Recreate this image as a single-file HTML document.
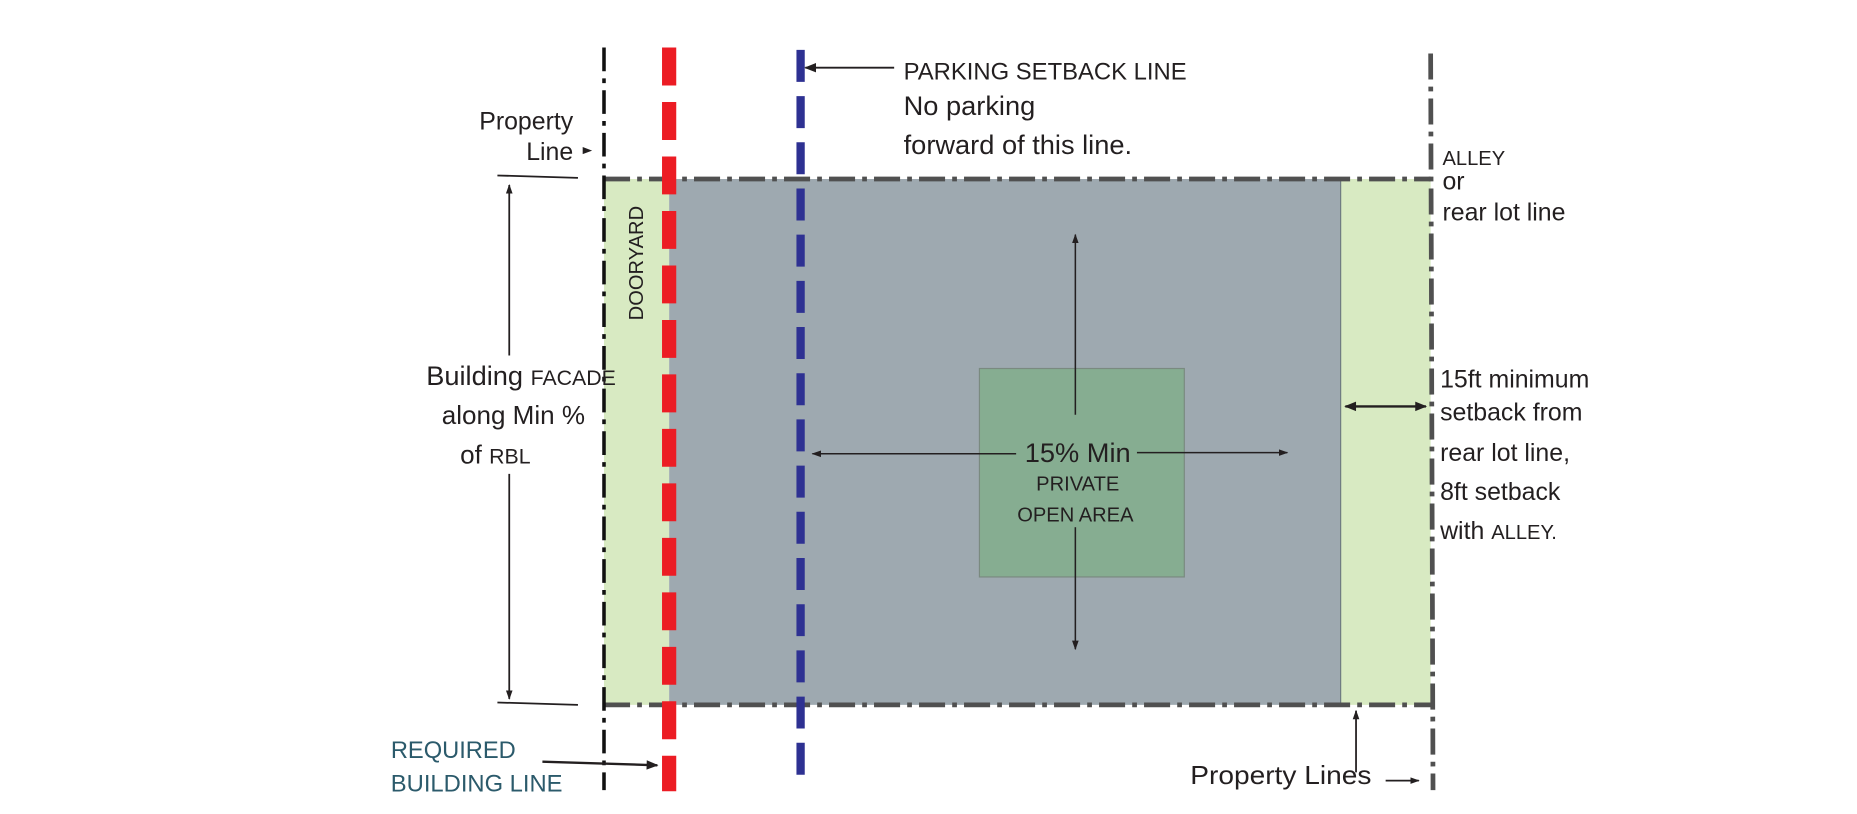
<!DOCTYPE html>
<html><head><meta charset="utf-8"><style>
html,body{margin:0;padding:0;background:#fff;width:1857px;height:814px;overflow:hidden}
svg{display:block}
text{font-family:"Liberation Sans",sans-serif;fill:#231f20}
</style></head><body>
<svg width="1857" height="814" viewBox="0 0 1568 687" xmlns="http://www.w3.org/2000/svg">
<defs>
<marker id="ah" viewBox="0 0 10 10" refX="9" refY="5" markerWidth="8" markerHeight="8" orient="auto-start-reverse" markerUnits="userSpaceOnUse"><path d="M0,1.5 L10,5 L0,8.5 z" fill="#231f20"/></marker>
<marker id="ah2" viewBox="0 0 10 10" refX="9" refY="5" markerWidth="12" markerHeight="10" orient="auto-start-reverse" markerUnits="userSpaceOnUse"><path d="M0,1 L10,5 L0,9 z" fill="#231f20"/></marker>
</defs>
<rect x="510" y="151" width="55" height="444" fill="#d8eac2"/>
<rect x="565" y="151" width="567" height="444" fill="#9ea9b0"/>
<rect x="1132" y="151" width="76" height="444" fill="#d8eac2"/>
<line x1="1132" y1="151" x2="1132" y2="595" stroke="#6e7a80" stroke-width="1"/>
<rect x="827" y="311" width="173" height="176" fill="#86ad91" stroke="#7a8a80" stroke-width="1"/>
<line x1="510" y1="151" x2="1208" y2="151" stroke="#505050" stroke-width="4" stroke-dasharray="22,6,4,6"/>
<line x1="510" y1="595" x2="1208" y2="595" stroke="#505050" stroke-width="4" stroke-dasharray="22,6,4,6"/>
<line x1="510" y1="40" x2="510" y2="667" stroke="#111" stroke-width="3" stroke-dasharray="20,6,4,6"/>
<line x1="1208" y1="45" x2="1210" y2="667" stroke="#505050" stroke-width="4" stroke-dasharray="22,6,4,6"/>
<line x1="565" y1="40" x2="565" y2="668" stroke="#ec1c24" stroke-width="12" stroke-dasharray="32,14"/>
<line x1="676" y1="42" x2="676" y2="666" stroke="#2e3192" stroke-width="7" stroke-dasharray="27,12"/>
<line x1="908" y1="350" x2="908" y2="198" stroke="#231f20" stroke-width="1.3" marker-end="url(#ah)"/>
<line x1="908" y1="445" x2="908" y2="548" stroke="#231f20" stroke-width="1.3" marker-end="url(#ah)"/>
<line x1="858" y1="383" x2="686" y2="383" stroke="#231f20" stroke-width="1.3" marker-end="url(#ah)"/>
<line x1="960" y1="382" x2="1087" y2="382" stroke="#231f20" stroke-width="1.3" marker-end="url(#ah)"/>
<text x="910" y="390" font-size="23" text-anchor="middle">15% Min</text>
<text x="910" y="414" font-size="17" text-anchor="middle">PRIVATE</text>
<text x="908" y="440" font-size="17" text-anchor="middle">OPEN AREA</text>
<line x1="420" y1="148" x2="488" y2="150" stroke="#231f20" stroke-width="1.5"/>
<line x1="420" y1="593" x2="488" y2="595" stroke="#231f20" stroke-width="1.5"/>
<line x1="430" y1="300" x2="430" y2="156" stroke="#231f20" stroke-width="1.5" marker-end="url(#ah)"/>
<line x1="430" y1="400" x2="430" y2="590" stroke="#231f20" stroke-width="1.5" marker-end="url(#ah)"/>
<text x="520" y="325" font-size="23" text-anchor="end">Building <tspan font-size="18">FACADE</tspan></text>
<text x="494" y="358" font-size="22" text-anchor="end">along Min %</text>
<text x="448" y="391" font-size="22" text-anchor="end">of <tspan font-size="18">RBL</tspan></text>
<text x="484" y="109" font-size="21" text-anchor="end">Property</text>
<text x="484" y="135" font-size="21" text-anchor="end">Line</text>
<path d="M492,124 L500,127 L492,130 z" fill="#231f20"/>
<line x1="755" y1="57" x2="680" y2="57" stroke="#231f20" stroke-width="1.5" marker-end="url(#ah2)"/>
<text x="763" y="67" font-size="20" textLength="239" lengthAdjust="spacingAndGlyphs">PARKING SETBACK LINE</text>
<text x="763" y="97" font-size="23">No parking</text>
<text x="763" y="130" font-size="23">forward of this line.</text>
<text transform="translate(543,222) rotate(-90)" font-size="17" text-anchor="middle">DOORYARD</text>
<text x="1218" y="139" font-size="17">ALLEY</text>
<text x="1218" y="160" font-size="21">or</text>
<text x="1218" y="186" font-size="21">rear lot line</text>
<line x1="1136" y1="343" x2="1204" y2="343" stroke="#231f20" stroke-width="2" marker-end="url(#ah2)" marker-start="url(#ah2)"/>
<text x="1216" y="327" font-size="21">15ft minimum</text>
<text x="1216" y="355" font-size="21">setback from</text>
<text x="1216" y="389" font-size="21">rear lot line,</text>
<text x="1216" y="422" font-size="21">8ft setback</text>
<text x="1216" y="455" font-size="21">with <tspan font-size="17">ALLEY.</tspan></text>
<text x="330" y="640" font-size="20" style="fill:#2b5a6b">REQUIRED</text>
<text x="330" y="668" font-size="20" style="fill:#2b5a6b" textLength="145" lengthAdjust="spacingAndGlyphs">BUILDING LINE</text>
<line x1="458" y1="643" x2="555" y2="646" stroke="#231f20" stroke-width="2" marker-end="url(#ah2)"/>
<line x1="1145" y1="652" x2="1145" y2="600" stroke="#231f20" stroke-width="1.5" marker-end="url(#ah)"/>
<text x="1005" y="662" font-size="22" textLength="153" lengthAdjust="spacingAndGlyphs">Property Lines</text>
<line x1="1170" y1="659" x2="1198" y2="659" stroke="#231f20" stroke-width="1.5" marker-end="url(#ah)"/>
</svg>
</body></html>
